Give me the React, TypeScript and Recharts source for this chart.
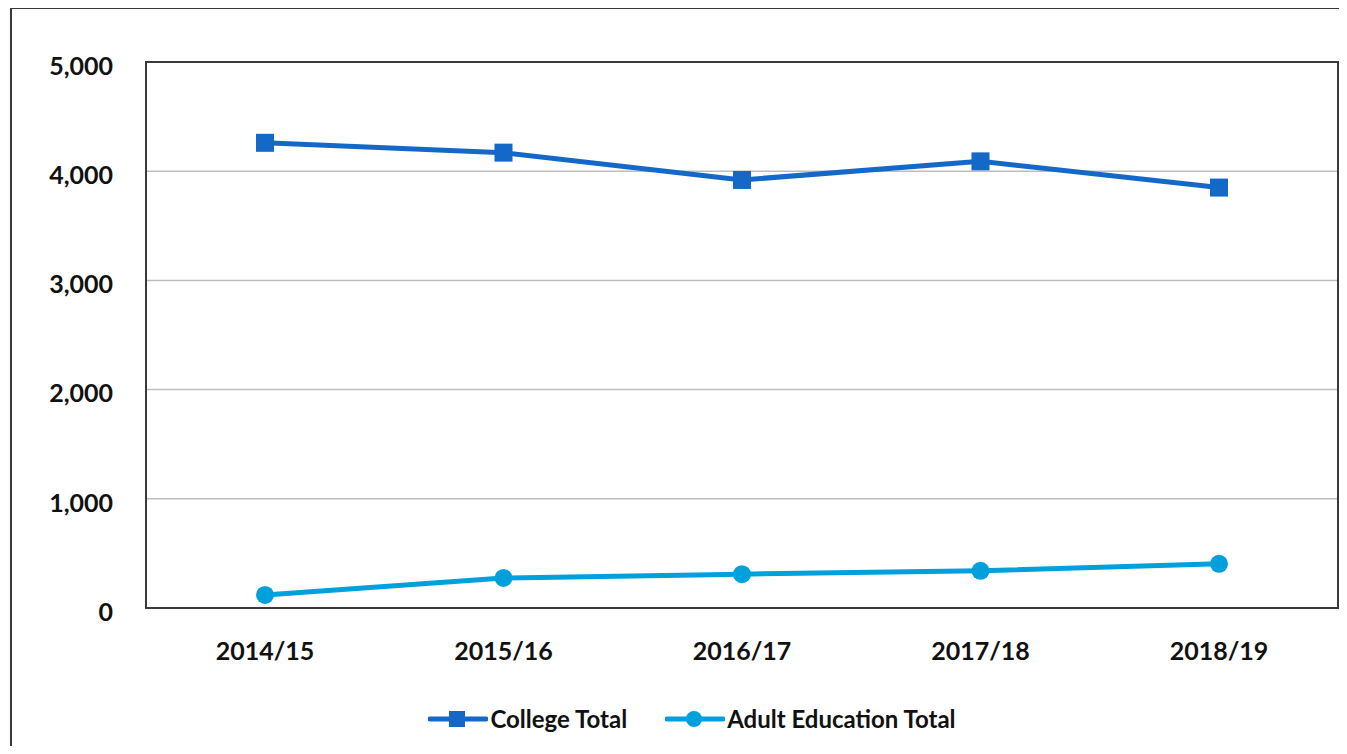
import React from 'react';
import { LineChart, Line, XAxis, YAxis, CartesianGrid, Legend } from 'recharts';

const years = ['2014/15', '2015/16', '2016/17', '2017/18', '2018/19'];
const collegeTotal = [4260, 4170, 3920, 4090, 3850];
const adultEducationTotal = [120, 275, 310, 340, 405];
const yTicks = [0, 1000, 2000, 3000, 4000, 5000];

const COLLEGE = '#1469c8';
const ADULT = '#00a0dc';

const data = years.map((year, i) => ({
  year,
  college: collegeTotal[i],
  adult: adultEducationTotal[i],
}));

const SquareDot = (props: any) => {
  const { cx, cy } = props;
  if (cx == null || cy == null) return null;
  return <rect x={cx - 9} y={cy - 9} width={18} height={18} fill={COLLEGE} />;
};

const RoundDot = (props: any) => {
  const { cx, cy } = props;
  if (cx == null || cy == null) return null;
  return <circle cx={cx} cy={cy} r={9} fill={ADULT} />;
};

const LegendContent = () => {
  const items = [
    { label: 'College Total', color: COLLEGE, shape: 'square' },
    { label: 'Adult Education Total', color: ADULT, shape: 'circle' },
  ];
  return (
    <div style={{ display: 'flex', justifyContent: 'center', alignItems: 'center', gap: 38 }}>
      {items.map((it) => (
        <div key={it.label} style={{ display: 'flex', alignItems: 'center' }}>
          <svg width={60} height={20}>
            <line x1={2} y1={10} x2={58} y2={10} stroke={it.color} strokeWidth={5} strokeLinecap="round" />
            {it.shape === 'square' ? (
              <rect x={21} y={2} width={16} height={16} fill={it.color} />
            ) : (
              <circle cx={29} cy={10} r={8} fill={it.color} />
            )}
          </svg>
          <span style={{ fontFamily: 'Lato', fontWeight: 700, fontSize: 24, color: '#111', marginLeft: 2 }}>{it.label}</span>
        </div>
      ))}
    </div>
  );
};

const tickStyle = { fontFamily: 'Lato', fontWeight: 700, fontSize: 25, fill: '#111' };

export default function App() {
  return (
    <div style={{ position: 'relative', width: 1347, height: 754, margin: -8, overflow: 'hidden', background: '#fff' }}>
      <div
        style={{
          position: 'absolute',
          left: 10,
          top: 7,
          width: 1345,
          height: 760,
          border: '2px solid #3a3a3a',
          boxSizing: 'border-box',
          boxShadow: '2px 2px 4px rgba(0,0,0,0.25)',
        }}
      />
      <div style={{ position: 'absolute', left: 0, top: 0 }}>
        <LineChart width={1347} height={754} data={data} margin={{ top: 62, right: 9, bottom: 10, left: 46 }}>
          <CartesianGrid vertical={false} stroke="#bdbdbd" strokeWidth={1.5} />
          <XAxis
            dataKey="year"
            padding={{ left: 119, right: 119 }}
            tickLine={false}
            axisLine={{ stroke: '#3a3a3a', strokeWidth: 2 }}
            tick={tickStyle}
            tickMargin={28}
            height={96}
            interval={0}
          />
          <YAxis
            domain={[0, 5000]}
            ticks={yTicks}
            tickFormatter={(v: number) => v.toLocaleString('en-US')}
            tickLine={false}
            axisLine={{ stroke: '#3a3a3a', strokeWidth: 2 }}
            tick={{ ...tickStyle, dy: 4 }}
            tickMargin={27}
            width={100}
          />
          <Legend verticalAlign="bottom" height={40} content={<LegendContent />} />
          <Line
            dataKey="college"
            stroke={COLLEGE}
            strokeWidth={5}
            dot={<SquareDot />}
            activeDot={false}
            isAnimationActive={false}
          />
          <Line
            dataKey="adult"
            stroke={ADULT}
            strokeWidth={5}
            dot={<RoundDot />}
            activeDot={false}
            isAnimationActive={false}
          />
        </LineChart>
      </div>
      {/* plot frame */}
      <div
        style={{
          position: 'absolute',
          left: 145,
          top: 61,
          width: 1194,
          height: 548,
          border: '2px solid #3a3a3a',
          boxSizing: 'border-box',
          pointerEvents: 'none',
        }}
      />
    </div>
  );
}
